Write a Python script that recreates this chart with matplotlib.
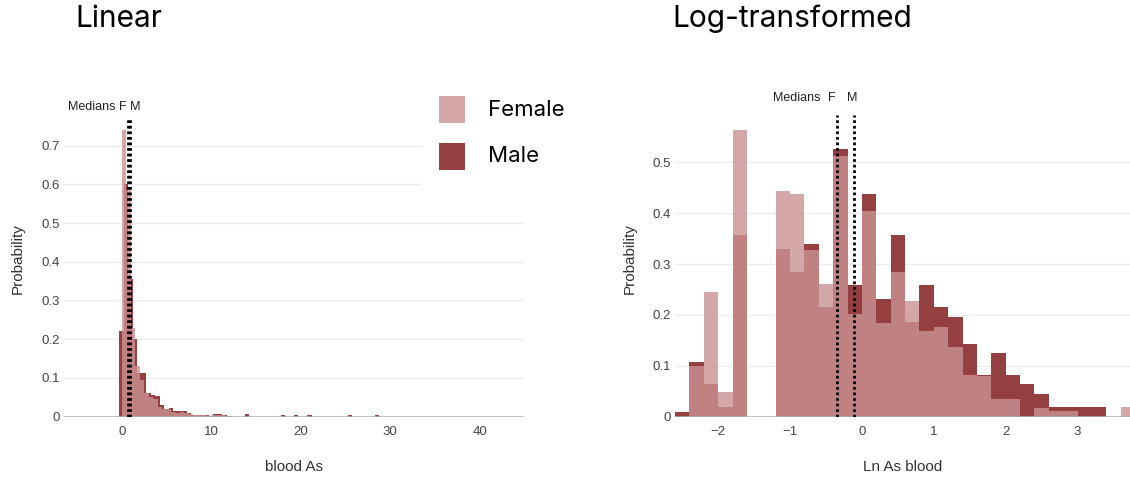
import matplotlib
matplotlib.use("Agg")
import matplotlib.pyplot as plt
from matplotlib.patches import Rectangle
import numpy as np

# ---- data ----
# linear panel: bin width 0.5, female bins start at 0, male bins at -0.25
lin_width = 0.5
female_lin_start = 0.0
female_lin = [0.74, 0.585, 0.23, 0.13, 0.095, 0.06, 0.05, 0.045, 0.025, 0.02,
              0.02, 0.012, 0.01, 0.012, 0.008, 0.006, 0.004, 0.003, 0.003, 0.002,
              0.004, 0.003, 0.003, 0.001]
male_lin_start = -0.25
male_lin = [0.22, 0.60, 0.355, 0.20, 0.112, 0.112, 0.06, 0.055, 0.052, 0.03,
            0.02, 0.022, 0.013, 0.015, 0.014, 0.01, 0.004, 0.005, 0.004, 0.003,
            0.002, 0.007, 0.006, 0.003, 0.001, 0, 0, 0, 0.006, 0,
            0, 0, 0, 0, 0, 0, 0.003, 0, 0, 0.003,
            0, 0, 0.003, 0, 0, 0, 0, 0, 0, 0,
            0, 0.003, 0, 0, 0, 0, 0, 0.003]

# log panel: shared bins of width 0.2 starting at -2.6
log_width = 0.2
log_start = -2.6
female_log = [0, 0.100, 0.245, 0.049, 0.563, 0, 0, 0.444, 0.437, 0.328,
              0.261, 0.513, 0.202, 0.404, 0.185, 0.285, 0.228, 0.169, 0.176, 0.136,
              0.081, 0.079, 0.034, 0.034, 0, 0.017, 0.010, 0.010, 0, 0,
              0, 0.018]
male_log = [0.009, 0.107, 0.064, 0.018, 0.358, 0, 0, 0.329, 0.285, 0.339,
            0.215, 0.526, 0.259, 0.437, 0.232, 0.358, 0.186, 0.259, 0.215, 0.196,
            0.142, 0.081, 0.125, 0.081, 0.063, 0.045, 0.019, 0.019, 0.019, 0.019,
            0, 0]

median_f_lin, median_m_lin = 0.70, 0.90
median_f_log, median_m_log = -0.353, -0.108

male_color = "#944040"
female_color = "#ca9292"
female_alpha = 0.8
tick_font = "Liberation Sans"
title_font = "Inter"

W, H = 1130, 479
fig = plt.figure(figsize=(W / 100, H / 100), dpi=100)


def px_axes(x0, x1, y0, y1):
    # pixel box (from top-left) -> figure fraction
    return fig.add_axes([x0 / W, 1 - y1 / H, (x1 - x0) / W, (y1 - y0) / H])


def style(ax, yticks, xlabel):
    ax.set_yticks(yticks)
    ax.yaxis.set_major_formatter(plt.FuncFormatter(lambda v, p: f"{v:g}"))
    for s in ax.spines.values():
        s.set_visible(False)
    ax.tick_params(length=0, labelsize=9.5, labelcolor="#444444")
    ax.tick_params(axis="x", pad=7)
    ax.tick_params(axis="y", pad=3)
    for lab in ax.get_xticklabels() + ax.get_yticklabels():
        lab.set_family(tick_font)
    ax.set_axisbelow(True)
    ax.grid(axis="y", color="#ececec", lw=1)
    ax.grid(axis="x", visible=False)
    ax.axhline(0, color="#b0b0b0", lw=1.8, zorder=3)
    ax.set_ylabel("Probability", family=tick_font, fontsize=11, color="#333333")
    ax.set_xlabel(xlabel, family=tick_font, fontsize=11, color="#333333")
    ax.yaxis.set_label_coords(-0.085, 0.5)
    ax.xaxis.set_label_coords(0.5, -0.137)


def draw_bars(ax, start, width, vals, **kw):
    vals = np.asarray(vals)
    left = start + width * np.arange(len(vals))
    ax.bar(left, vals, width=width, align="edge", linewidth=0, **kw)


# ---------------- Linear ----------------
ax1 = px_axes(64, 524, 100, 416.5)
draw_bars(ax1, male_lin_start, lin_width, male_lin, color=male_color, zorder=2)
draw_bars(ax1, female_lin_start, lin_width, female_lin, color=female_color,
          alpha=female_alpha, zorder=2.5)
ax1.set_xlim(-6.45, 44.95)
ax1.set_ylim(0, 0.818)
ax1.set_xticks([0, 10, 20, 30, 40])
style(ax1, [0, 0.1, 0.2, 0.3, 0.4, 0.5, 0.6, 0.7], "blood As")
for m in (median_f_lin, median_m_lin):
    ax1.plot([m, m], [0, 0.775], color="black", lw=2, ls=(0, (1, 1)), zorder=4)
ax1.text(-1.95, 0.80, "Medians F M", ha="center", va="center", fontsize=9,
         family=tick_font, color="#222222", clip_on=False)
# white backing of the legend hides the upper grid lines
ax1.add_patch(Rectangle((33.6, 0.55), 12, 0.4, facecolor="white",
                        edgecolor="none", zorder=1, clip_on=False))

# ---------------- Log-transformed ----------------
ax2 = px_axes(675, 1130, 100, 416.5)
draw_bars(ax2, log_start, log_width, male_log, color=male_color, zorder=2)
draw_bars(ax2, log_start, log_width, female_log, color=female_color,
          alpha=female_alpha, zorder=2.5)
ax2.set_xlim(-2.6, 3.73)
ax2.set_ylim(0, 0.623)
ax2.set_xticks([-2, -1, 0, 1, 2, 3])
style(ax2, [0, 0.1, 0.2, 0.3, 0.4, 0.5], "Ln As blood")
for m in (median_f_log, median_m_log):
    ax2.plot([m, m], [0, 0.594], color="black", lw=2, ls=(0, (1, 1)), zorder=4)
ax2.text(-0.57, 0.627, "Medians", ha="right", va="center", fontsize=9,
         family=tick_font, color="#222222", clip_on=False)
ax2.text(-0.42, 0.627, "F", ha="center", va="center", fontsize=9,
         family=tick_font, color="#222222", clip_on=False)
ax2.text(-0.14, 0.627, "M", ha="center", va="center", fontsize=9,
         family=tick_font, color="#222222", clip_on=False)

# ---------------- titles and legend ----------------
fig.text(75 / W, 1 - 19 / H, "Linear", fontsize=21.5, family=title_font,
         va="center", ha="left")
fig.text(672 / W, 1 - 19 / H, "Log-transformed", fontsize=21.5,
         family=title_font, va="center", ha="left")

legend_items = [("Female", female_color, female_alpha, 96),
                ("Male", male_color, 1.0, 143)]
for name, col, a, top in legend_items:
    fig.patches.append(Rectangle((439 / W, 1 - (top + 27) / H), 26 / W, 27 / H,
                                 facecolor=col, alpha=a, edgecolor="none",
                                 transform=fig.transFigure))
    fig.text(488 / W, 1 - (top + 13.5) / H, name, fontsize=16,
             family=title_font, va="center", ha="left")

fig.savefig("out.png", dpi=100)
